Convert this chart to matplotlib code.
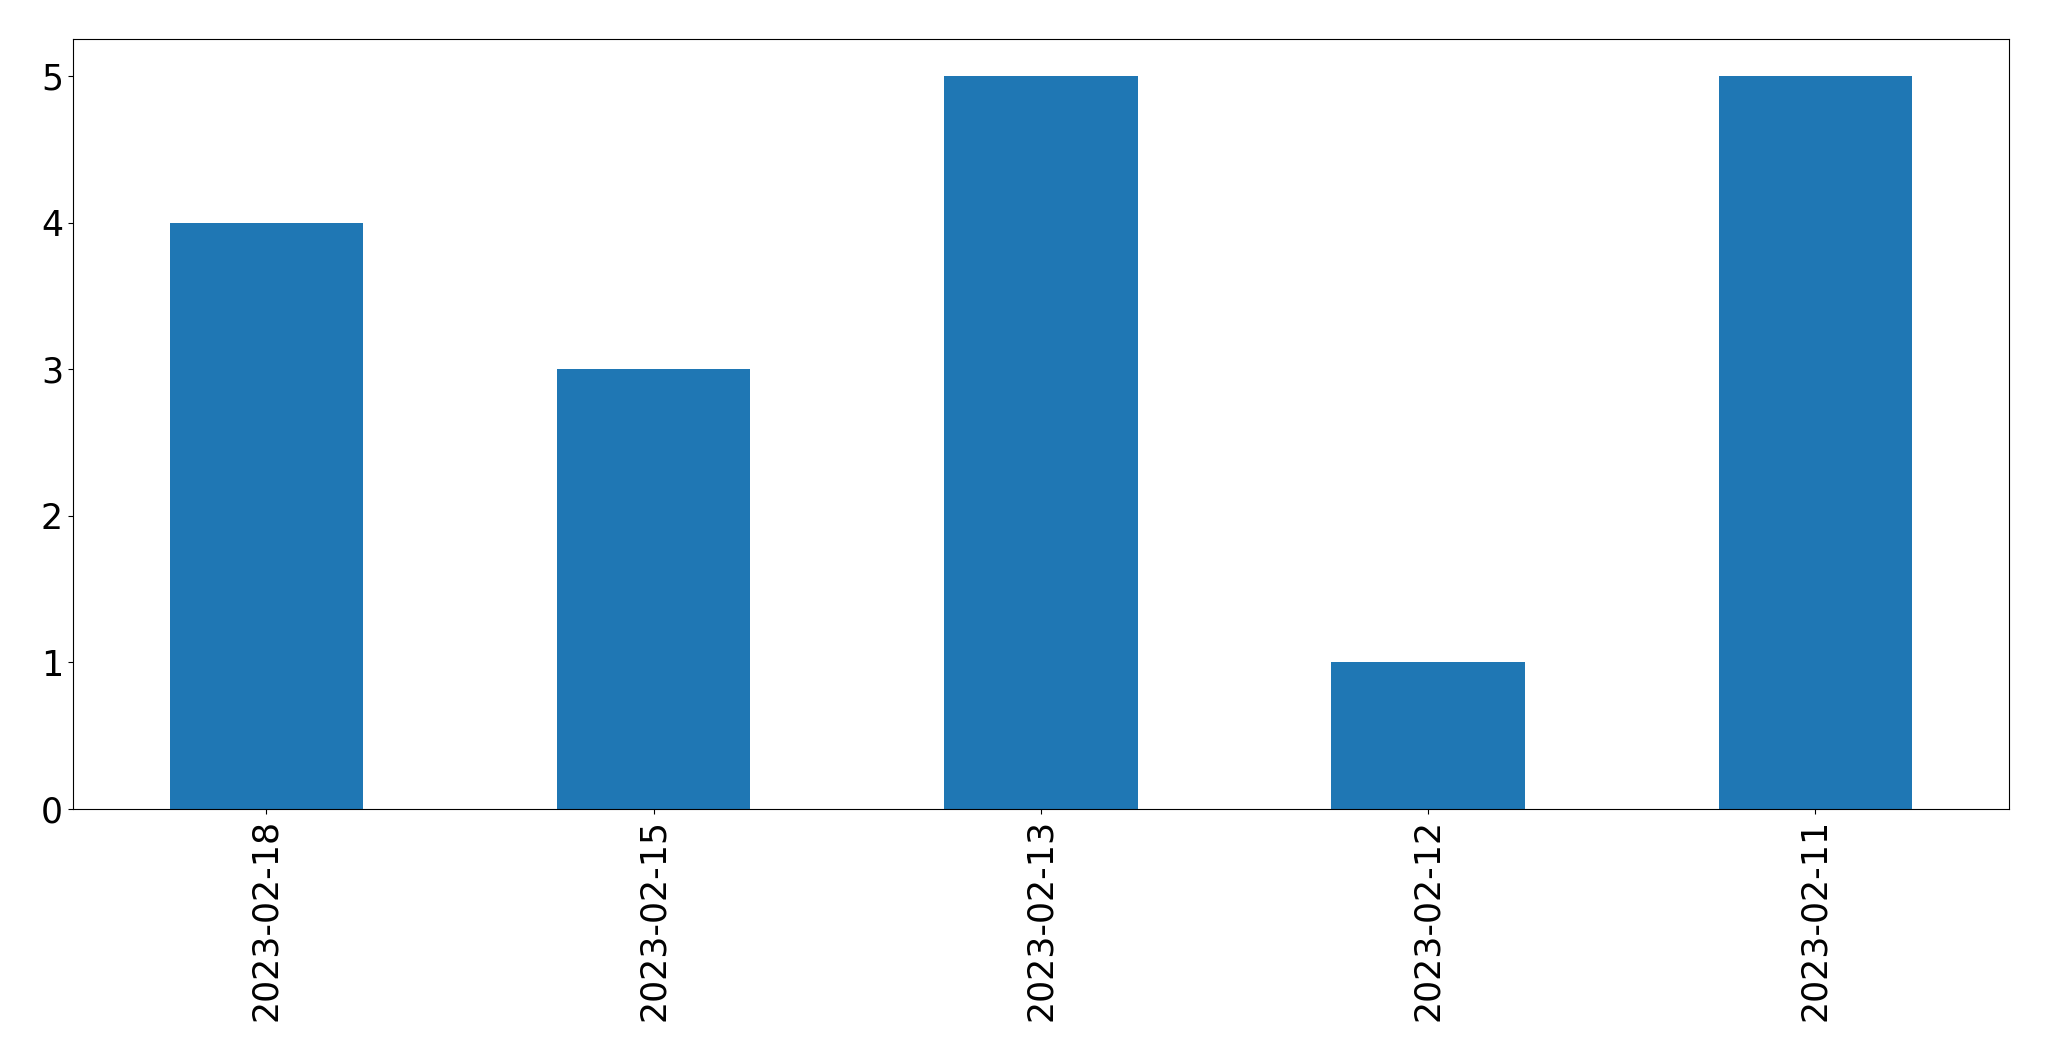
import matplotlib
matplotlib.use('Agg')
import matplotlib.pyplot as plt
import pandas as pd

dates = ['2023-02-18', '2023-02-15', '2023-02-13', '2023-02-12', '2023-02-11']
counts = [4, 3, 5, 1, 5]

s = pd.Series(counts, index=dates)

fig, ax = plt.subplots(figsize=(20.49, 10.61), dpi=100)
s.plot(kind='bar', ax=ax, color='#1f77b4', fontsize=25)
ax.tick_params(axis='both', labelsize=25)
fig.subplots_adjust(left=0.0355, right=0.9805, bottom=0.2375, top=0.963)
fig.savefig('out.png', dpi=100)
